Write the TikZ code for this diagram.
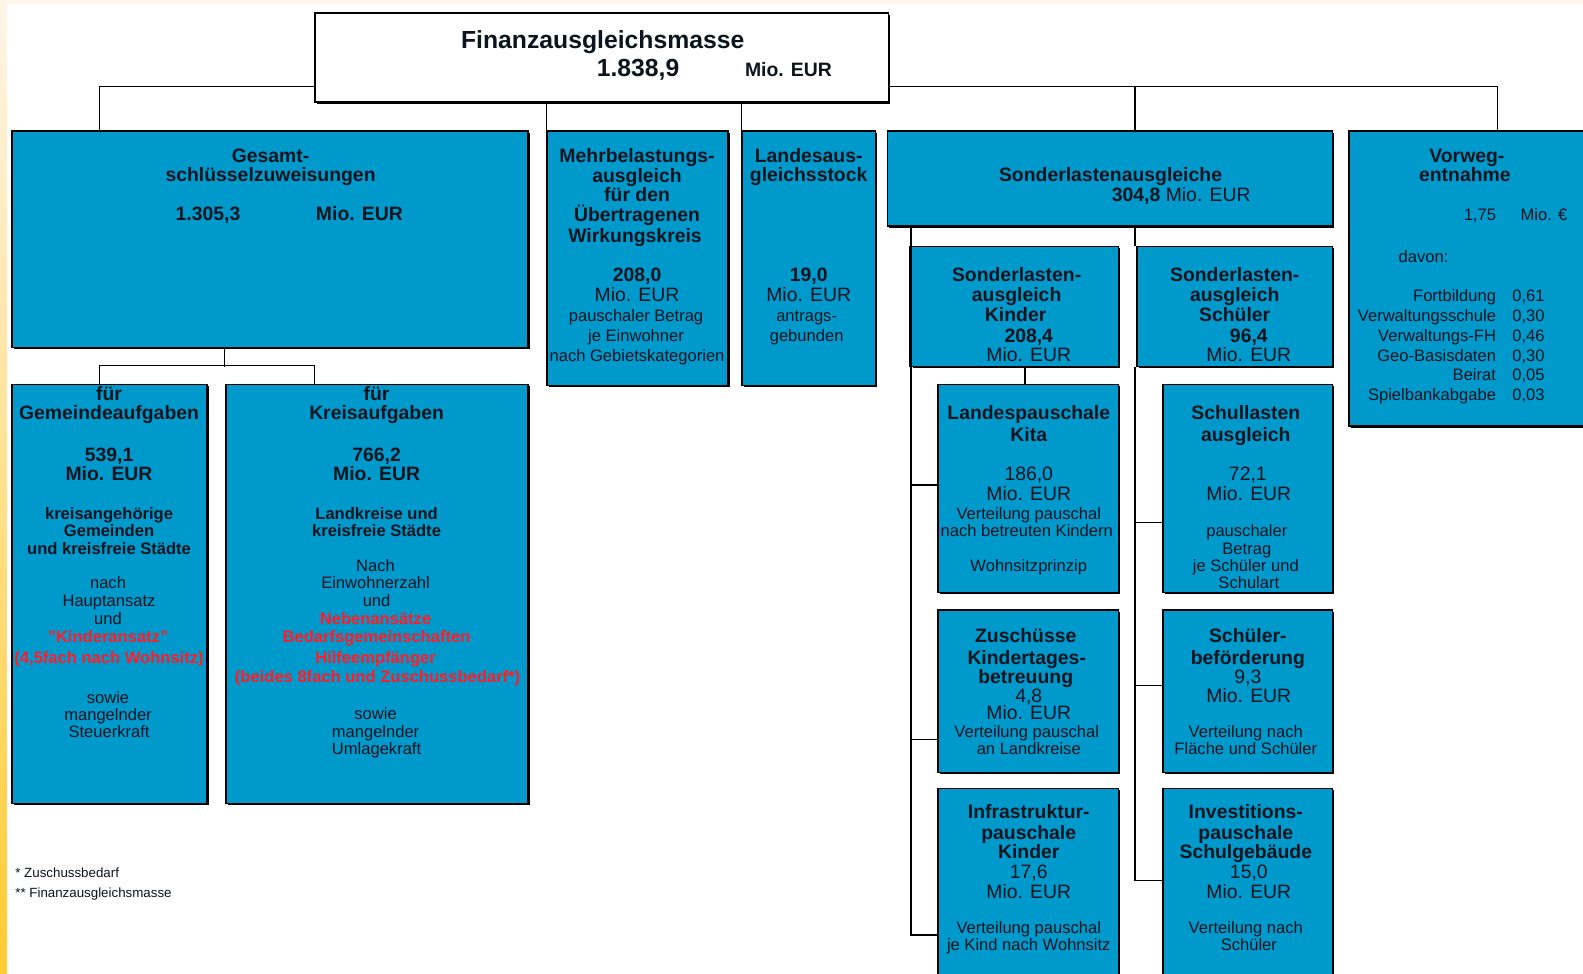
\documentclass[tikz,border=0pt]{standalone}
\usepackage{fontspec}
\setmainfont{Liberation Sans}
\usetikzlibrary{shadows,calc}
\definecolor{boxblue}{RGB}{0,153,204}
\definecolor{ink}{RGB}{12,20,30}
\definecolor{redt}{RGB}{255,28,40}
\definecolor{cream}{RGB}{255,245,232}
\definecolor{stripebot}{RGB}{255,204,51}
\newcounter{lnc}
\newcommand\tx[4]{\stepcounter{lnc}\node[#1] (ln\thelnc) at (#2,#3) {#4};}
\newcommand\placebox[6][box]{\node[#1, minimum width={(#5)-(#3)}, minimum height={(#6)-(#4)}] (#2) at ({((#3)+(#5))/2},{((#4)+(#6))/2}) {};}
\begin{document}
\begin{tikzpicture}[x=1pt,y=-1pt,
  box/.style={draw=black, line width=1.5pt, fill=boxblue, inner sep=0pt,
    drop shadow={shadow xshift=1.8pt, shadow yshift=-1.8pt, fill=black, opacity=1}},
  topbox/.style={box, fill=white},
  con/.style={draw=black, line width=1.3pt},
  tT/.style={font={\fontsize{24.5}{25}\selectfont\bfseries}, text=ink, anchor=base, yshift=-8.7pt, inner sep=0pt},
  tB/.style={font={\fontsize{19.2}{20}\selectfont\bfseries}, text=ink, anchor=base, yshift=-6.8pt, inner sep=0pt},
  tR/.style={font={\fontsize{19.2}{20}\selectfont}, text=ink, anchor=base, yshift=-6.8pt, inner sep=0pt},
  tS/.style={font={\fontsize{16.4}{17}\selectfont}, text=ink, anchor=base, yshift=-5.8pt, inner sep=0pt},
  tSB/.style={font={\fontsize{16.4}{17}\selectfont\bfseries}, text=ink, anchor=base, yshift=-5.8pt, inner sep=0pt},
  tRB/.style={font={\fontsize{16.4}{17}\selectfont\bfseries}, text=redt, anchor=base, yshift=-5.8pt, inner sep=0pt},
  tF/.style={font={\fontsize{13.2}{14}\selectfont}, text=ink, anchor=base west, inner sep=0pt},
]
\useasboundingbox (0,0) rectangle (1568,964);
\clip (0,0) rectangle (1568,964);
\fill[white] (0,0) rectangle (1568,964);
\fill[cream] (0,0) rectangle (1568,4);
\shade[top color=cream, bottom color=stripebot] (0,0) rectangle (7,964);

\coordinate (bus) at (0,86);
\placebox[topbox]{top}{312}{13}{880}{101}
\placebox{gesamt}{12}{130}{523}{344}
\placebox{mehr}{542}{130}{721}{382}
\placebox{landes}{735}{130}{867}{382}
\placebox{sonder}{879}{130}{1320}{224}
\placebox{vorweg}{1336}{130}{1580}{422}
\placebox{gemeinde}{12}{381}{205}{796}
\placebox{kreis}{224}{381}{523}{796}
\placebox{sk}{903}{244}{1108}{363}
\placebox{ss}{1126}{244}{1320}{363}
\placebox{landesp}{929}{381}{1108}{587}
\placebox{zusch}{929}{604}{1108}{765}
\placebox{infra}{929}{781}{1108}{966}
\placebox{schull}{1152}{381}{1320}{587}
\placebox{schuelb}{1152}{604}{1320}{765}
\placebox{invest}{1152}{781}{1320}{966}

\draw[con] (top.west |- bus) -| ([xshift=87pt]gesamt.north west);
\draw[con] (top.east |- bus) -| ([xshift=148pt]vorweg.north west);
\draw[con] ([xshift=246pt]sonder.north west) -- ++(0,-44);
\draw[con] (mehr.north west) -- (mehr.north west |- top.south);
\draw[con] (landes.north west) -- (landes.north west |- top.south);
\draw[con] ([xshift=211pt]gesamt.south west) -- ++(0,19);
\draw[con] ([xshift=87pt]gemeinde.north west) -- ++(0,-18) -| ([xshift=88pt]kreis.north west);
\draw[con] ([xshift=24pt]sonder.south west) -- (sk.north west);
\draw[con] (sk.south west) |- ([yshift=-146pt]infra.north west);
\draw[con] ([yshift=-100pt]landesp.north west) -- ++(-26,0);
\draw[con] ([yshift=-129pt]zusch.north west) -- ++(-26,0);
\draw[con] ([xshift=113pt]sk.south west) -- ([xshift=113pt]sk.south west |- landesp.north);
\draw[con] ([xshift=246pt]sonder.south west) -- ([xshift=246pt]sonder.south west |- ss.north);
\draw[con] ([xshift=-1pt]ss.south west) |- ([yshift=-92pt]invest.north west);
\draw[con] ([yshift=-137pt]schull.north west) -- ++(-27,0);
\draw[con] ([yshift=-76pt]schuelb.north west) -- ++(-27,0);
\draw[line width=3pt] (sk.north west) -- (sk.south west);

\tx{tT}{597}{39}{Finanzausgleichsmasse}
\tx{tT}{632}{67}{1.838,9}
\tx{tB}{781}{69}{Mio. EUR}

\tx{tB}{268}{154}{Gesamt-}
\tx{tB}{268}{173}{schlüsselzuweisungen}
\tx{tB}{206}{212}{1.305,3}
\tx{tB}{356}{212}{Mio. EUR}

\tx{tB}{631}{154}{Mehrbelastungs-}
\tx{tB}{631}{174}{ausgleich}
\tx{tB}{631}{193}{für den}
\tx{tB}{631}{213}{Übertragenen}
\tx{tB}{629}{233}{Wirkungskreis}
\tx{tB}{631}{272}{208,0}
\tx{tR}{631}{292}{Mio. EUR}
\tx{tS}{630}{313}{pauschaler Betrag}
\tx{tS}{630}{332}{je Einwohner}
\tx{tS}{631}{352}{nach Gebietskategorien}

\tx{tB}{801}{154}{Landesaus-}
\tx{tB}{801}{173}{gleichsstock}
\tx{tB}{801}{272}{19,0}
\tx{tR}{801}{292}{Mio. EUR}
\tx{tS}{799}{313}{antrags-}
\tx{tS}{799}{332}{gebunden}

\tx{tB}{1100}{173}{Sonderlastenausgleiche}
\tx{tR}{1170}{193}{\textbf{304,8} Mio. EUR}

\tx{tB}{1453}{154}{Vorweg-}
\tx{tB}{1451}{173}{entnahme}
\tx{tS, anchor=base east}{1482}{213}{1,75}
\tx{tS, anchor=base west}{1506}{213}{Mio. €}
\tx{tS}{1410}{254}{davon:}
\tx{tS, anchor=base east}{1482}{293}{Fortbildung}
\tx{tS, anchor=base east}{1482}{313}{Verwaltungsschule}
\tx{tS, anchor=base east}{1482}{332}{Verwaltungs-FH}
\tx{tS, anchor=base east}{1482}{352}{Geo-Basisdaten}
\tx{tS, anchor=base east}{1482}{371}{Beirat}
\tx{tS, anchor=base east}{1482}{391}{Spielbankabgabe}
\tx{tS}{1514}{293}{0,61}
\tx{tS}{1514}{313}{0,30}
\tx{tS}{1514}{332}{0,46}
\tx{tS}{1514}{352}{0,30}
\tx{tS}{1514}{371}{0,05}
\tx{tS}{1514}{391}{0,03}

\tx{tB}{108}{390}{für}
\tx{tB}{108}{409}{Gemeindeaufgaben}
\tx{tB}{108}{450}{539,1}
\tx{tB}{108}{469}{Mio. EUR}
\tx{tSB}{108}{509}{kreisangehörige}
\tx{tSB}{108}{526}{Gemeinden}
\tx{tSB}{108}{543}{und kreisfreie Städte}
\tx{tS}{107}{577}{nach}
\tx{tS}{108}{595}{Hauptansatz}
\tx{tS}{107}{613}{und}
\tx{tRB}{107}{631}{"Kinderansatz"}
\tx{tRB}{108}{651}{(4,5fach nach Wohnsitz)}
\tx{tS}{107}{691}{sowie}
\tx{tS}{107}{708}{mangelnder}
\tx{tS}{108}{725}{Steuerkraft}

\tx{tB}{373}{390}{für}
\tx{tB}{373}{409}{Kreisaufgaben}
\tx{tB}{373}{450}{766,2}
\tx{tB}{373}{469}{Mio. EUR}
\tx{tSB}{373}{509}{Landkreise und}
\tx{tSB}{373}{526}{kreisfreie Städte}
\tx{tS}{372}{560}{Nach}
\tx{tS}{372}{577}{Einwohnerzahl}
\tx{tS}{373}{595}{und}
\tx{tRB}{372}{613}{Nebenansätze}
\tx{tRB}{373}{631}{Bedarfsgemeinschaften}
\tx{tRB}{372}{651}{Hilfeempfänger}
\tx{tRB}{374}{670}{(beides 8fach und Zuschussbedarf*)}
\tx{tS}{372}{707}{sowie}
\tx{tS}{372}{725}{mangelnder}
\tx{tS}{373}{742}{Umlagekraft}

\tx{tB}{1007}{272}{Sonderlasten-}
\tx{tB}{1007}{292}{ausgleich}
\tx{tB}{1006}{312}{Kinder}
\tx{tB}{1019}{332}{208,4}
\tx{tR}{1019}{351}{Mio. EUR}

\tx{tB}{1223}{272}{Sonderlasten-}
\tx{tB}{1223}{292}{ausgleich}
\tx{tB}{1223}{312}{Schüler}
\tx{tB}{1237}{332}{96,4}
\tx{tR}{1237}{351}{Mio. EUR}

\tx{tB}{1019}{409}{Landespauschale}
\tx{tB}{1019}{431}{Kita}
\tx{tR}{1019}{469}{186,0}
\tx{tR}{1019}{489}{Mio. EUR}
\tx{tS}{1019}{509}{Verteilung pauschal}
\tx{tS}{1017}{526}{nach betreuten Kindern}
\tx{tS}{1019}{560}{Wohnsitzprinzip}

\tx{tB}{1016}{630}{Zuschüsse}
\tx{tB}{1017}{651}{Kindertages-}
\tx{tB}{1016}{670}{betreuung}
\tx{tR}{1019}{689}{4,8}
\tx{tR}{1019}{706}{Mio. EUR}
\tx{tS}{1017}{725}{Verteilung pauschal}
\tx{tS}{1019}{742}{an Landkreise}

\tx{tB}{1019}{804}{Infrastruktur-}
\tx{tB}{1019}{825}{pauschale}
\tx{tB}{1019}{844}{Kinder}
\tx{tR}{1019}{863}{17,6}
\tx{tR}{1019}{883}{Mio. EUR}
\tx{tS}{1019}{919}{Verteilung pauschal}
\tx{tS}{1019}{936}{je Kind nach Wohnsitz}

\tx{tB}{1234}{409}{Schullasten}
\tx{tB}{1234}{431}{ausgleich}
\tx{tR}{1236}{469}{72,1}
\tx{tR}{1237}{489}{Mio. EUR}
\tx{tS}{1235}{526}{pauschaler}
\tx{tS}{1235}{543}{Betrag}
\tx{tS}{1234}{560}{je Schüler und}
\tx{tS}{1237}{577}{Schulart}

\tx{tB}{1236}{630}{Schüler-}
\tx{tB}{1236}{651}{beförderung}
\tx{tR}{1236}{670}{9,3}
\tx{tR}{1237}{689}{Mio. EUR}
\tx{tS}{1234}{725}{Verteilung nach}
\tx{tS}{1234}{742}{Fläche und Schüler}

\tx{tB}{1234}{804}{Investitions-}
\tx{tB}{1234}{825}{pauschale}
\tx{tB}{1234}{844}{Schulgebäude}
\tx{tR}{1237}{863}{15,0}
\tx{tR}{1237}{883}{Mio. EUR}
\tx{tS}{1234}{919}{Verteilung nach}
\tx{tS}{1237}{936}{Schüler}

\tx{tF}{15}{869}{* Zuschussbedarf}
\tx{tF}{15}{889}{** Finanzausgleichsmasse}
\end{tikzpicture}
\end{document}
